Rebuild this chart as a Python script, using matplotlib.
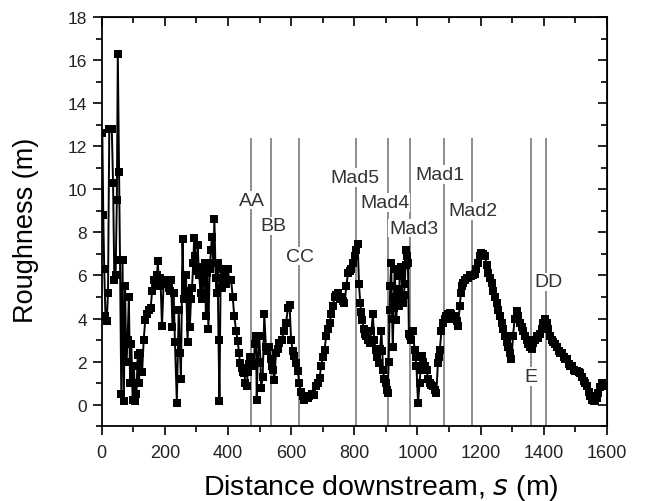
import matplotlib
matplotlib.use("Agg")
import matplotlib.pyplot as plt
from matplotlib.ticker import MultipleLocator

plt.rcParams['font.family'] = ['Liberation Sans', 'DejaVu Sans']

# distance downstream (m) and roughness (m)
dist = [2, 5, 8, 12, 16, 20, 24, 28, 32, 36, 40, 44, 48, 51, 55, 58, 62, 66, 70, 74,
        78, 82, 86, 90, 94, 98, 102, 106, 110, 114, 118, 122,
        128, 133, 138, 143, 149, 155, 160, 165, 170, 175, 178, 181, 186, 191, 196, 201,
        207, 212, 217, 220, 224, 228, 232, 238, 244, 248, 251, 256, 260, 264, 267, 272,
        276, 279, 283, 286, 290, 293, 297, 301, 304, 307, 309, 313, 316, 319, 323, 327,
        330, 334, 338, 342, 346, 349, 353, 357, 361, 364, 367, 370, 373, 377, 380, 383,
        388, 393, 399, 404, 410, 415, 420, 426, 431, 435, 438, 444, 448, 452, 455, 459,
        463, 467, 470, 473, 477, 481, 485, 489, 491, 494, 499, 503, 505, 510, 515, 520,
        525, 531, 535, 538, 542, 547, 552, 557, 563, 570, 577, 584, 590, 595, 600, 605,
        610, 616, 621, 626, 631, 637, 642, 648, 653, 658, 665, 672, 679, 685, 690, 695,
        700, 706, 711, 716, 722, 727, 732, 738, 743, 748, 754, 759, 764, 769, 775, 780,
        785, 790, 796, 801, 806, 811, 815, 819, 822, 825, 831, 835, 838, 843, 849, 854,
        859, 863, 868, 873, 878, 882, 886, 889, 891, 895, 899, 903, 906, 909, 912, 914,
        917, 920, 922, 925, 928, 931, 933, 936, 938, 941, 944, 947, 949, 952, 954, 957,
        960, 963, 965, 968, 970, 973, 977, 981, 986, 991, 994, 997, 1002, 1007, 1010, 1013,
        1018, 1023, 1029, 1034, 1039, 1044, 1050, 1055, 1060, 1065, 1068, 1071, 1076, 1081, 1087, 1092,
        1097, 1102, 1108, 1113, 1118, 1124, 1129, 1134, 1138, 1142, 1145, 1150, 1156, 1161, 1166, 1171,
        1177, 1182, 1187, 1192, 1198, 1203, 1208, 1214, 1219, 1224, 1230, 1235, 1240, 1245, 1251, 1256,
        1261, 1267, 1272, 1277, 1283, 1288, 1293, 1298, 1303, 1308, 1314, 1319, 1325, 1330, 1336, 1341,
        1346, 1351, 1357, 1362, 1367, 1372, 1378, 1383, 1388, 1394, 1399, 1404, 1409, 1415, 1420, 1425,
        1431, 1436, 1441, 1447, 1452, 1457, 1463, 1468, 1473, 1479, 1484, 1489, 1495, 1500, 1505, 1511,
        1516, 1521, 1527, 1532, 1537, 1543, 1548, 1553, 1558, 1563, 1568, 1573, 1578, 1584, 1589]
rough = [12.6, 8.8, 6.3, 4.1, 3.9, 5.2, 12.8, 12.8, 12.8, 10.3, 5.8, 6.0, 9.5, 16.3, 10.8, 6.7, 0.5, 6.7, 0.15, 5.5,
         2.0, 3.0, 5.0, 1.0, 2.8, 0.2, 1.8, 0.15, 0.5, 2.3, 1.0, 2.4,
         1.5, 3.0, 3.95, 4.2, 4.4, 4.5, 5.3, 5.8, 5.6, 6.0, 6.67, 5.5, 5.9, 3.64, 5.6, 5.7,
         5.8, 5.4, 5.3, 5.8, 3.6, 5.2, 2.9, 0.1, 4.4, 2.4, 1.2, 7.7, 4.9, 6.0, 6.0, 2.9,
         5.3, 3.6, 4.9, 5.4, 6.6, 7.75, 6.9, 6.2, 7.4, 6.4, 6.0, 5.2, 6.2, 4.9, 5.7, 6.6,
         4.1, 6.1, 3.5, 6.3, 7.2, 7.8, 6.6, 8.6, 5.9, 5.2, 6.6, 3.0, 0.15, 6.3, 5.4, 5.8,
         6.0, 5.6, 6.3, 5.8, 5.8, 5.0, 4.1, 3.4, 2.95, 2.4, 1.94, 1.7, 1.5, 1.47, 1.0, 0.85,
         1.5, 1.9, 2.2, 1.94, 2.0, 1.8, 2.8, 3.2, 0.23, 1.94, 3.2, 2.0, 0.78, 1.3, 4.2, 2.7,
         2.5, 2.7, 2.1, 1.8, 1.6, 1.16, 2.4, 2.6, 2.87, 3.0, 3.4, 3.8, 4.5, 4.65, 3.0, 2.5,
         2.25, 1.94, 1.55, 1.0, 0.6, 0.39, 0.2, 0.31, 0.3, 0.39, 0.5, 0.47, 0.85, 1.0, 1.24, 1.78,
         2.2, 2.56, 3.2, 3.5, 3.8, 4.2, 4.57, 5.0, 5.1, 5.2, 4.9, 5.0, 4.8, 4.7, 5.5, 6.1,
         6.2, 6.3, 6.6, 6.9, 7.2, 7.44, 5.6, 4.7, 4.3, 3.95, 3.5, 3.3, 3.2, 3.0, 2.87, 3.4,
         4.2, 3.0, 2.56, 2.2, 1.94, 2.6, 3.4, 2.5, 1.6, 1.2, 1.0, 0.7, 0.54, 2.0, 4.4, 5.5,
         6.6, 4.0, 2.7, 4.5, 6.3, 5.0, 3.95, 4.8, 5.35, 4.6, 5.97, 6.1, 6.4, 5.0, 4.7, 5.1,
         5.6, 6.5, 7.2, 6.9, 6.6, 3.3, 3.2, 3.0, 3.4, 2.56, 2.2, 1.78, 0.08, 1.0, 1.6, 2.25,
         2.0, 1.78, 1.6, 1.2, 1.0, 0.9, 0.85, 0.7, 0.54, 1.94, 2.2, 2.56, 3.4, 3.8, 4.0, 4.1,
         4.2, 4.26, 4.2, 4.0, 4.1, 3.9, 3.64, 4.57, 5.2, 5.5, 5.66, 5.8, 5.9, 5.9, 6.0, 5.97,
         6.0, 6.05, 6.3, 6.6, 6.9, 7.05, 7.0, 6.9, 6.5, 6.1, 5.9, 5.66, 5.3, 5.0, 4.7, 4.4,
         4.1, 3.8, 3.5, 3.2, 2.9, 2.7, 2.4, 2.1, 3.2, 4.0, 4.34, 4.1, 3.8, 3.6, 3.4, 3.2,
         3.0, 2.8, 2.7, 2.6, 2.87, 3.0, 3.2, 3.1, 3.3, 3.5, 3.8, 4.0, 3.8, 3.5, 3.2, 3.0,
         2.9, 2.8, 2.7, 2.5, 2.4, 2.4, 2.2, 2.1, 2.1, 1.9, 1.78, 1.78, 1.6, 1.55, 1.55, 1.5,
         1.47, 1.3, 1.1, 1.0, 0.85, 0.6, 0.4, 0.23, 0.15, 0.2, 0.3, 0.54, 0.8, 1.0, 0.85]

# reach markers
site_names = ['AA', 'BB', 'CC', 'Mad5', 'Mad4', 'Mad3', 'Mad1', 'Mad2', 'E', 'DD']
site_x = [472, 537, 625, 807, 906, 977, 1083, 1173, 1360, 1406]
label_x = [475, 543, 627, 801, 896, 988, 1071, 1175, 1360, 1416]
label_y = [9.5, 8.3, 6.9, 10.55, 9.4, 8.2, 10.7, 9.0, 1.3, 5.7]

fig = plt.figure(figsize=(6.49, 5.02), dpi=100)
ax = fig.add_axes([0.1567, 0.149, 0.7783, 0.815])

ax.vlines(site_x, -1, 12.4, colors='#858585', linewidth=1.3, zorder=1)
for name, lx, ly in zip(site_names, label_x, label_y):
    ax.text(lx, ly, name, ha='center', va='center', fontsize=14, color='#333333',
            bbox=dict(facecolor='white', edgecolor='none', pad=0.5), zorder=2)

ax.plot(dist, rough, color='black', linewidth=1.4, marker='s', markersize=6,
        markeredgewidth=0, zorder=3)

ax.set_xlim(0, 1600)
ax.set_ylim(-1, 18)
ax.xaxis.set_major_locator(MultipleLocator(200))
ax.xaxis.set_minor_locator(MultipleLocator(100))
ax.yaxis.set_major_locator(MultipleLocator(2))
ax.yaxis.set_minor_locator(MultipleLocator(1))
ax.tick_params(which='both', direction='out', width=1.2, colors='black')
ax.tick_params(which='major', length=6.5)
ax.tick_params(which='minor', length=4)
ax.tick_params(axis='x', labelsize=13, pad=6, labelcolor='#222222')
ax.tick_params(axis='y', labelsize=12.5, pad=4, labelcolor='#222222')
for s in ax.spines.values():
    s.set_linewidth(1.3)

top = ax.secondary_xaxis('top')
top.xaxis.set_major_locator(MultipleLocator(200))
top.xaxis.set_minor_locator(MultipleLocator(100))
top.tick_params(which='both', direction='in', labeltop=False, width=1.2)
top.tick_params(which='major', length=6.5)
top.tick_params(which='minor', length=4)
right = ax.secondary_yaxis('right')
right.yaxis.set_major_locator(MultipleLocator(2))
right.yaxis.set_minor_locator(MultipleLocator(1))
right.tick_params(which='both', direction='in', labelright=False, width=1.2)
right.tick_params(which='major', length=6.5)
right.tick_params(which='minor', length=4)

ax.set_xlabel('Distance downstream, $s$ (m)', fontsize=20.5)
ax.set_ylabel('Roughness (m)', fontsize=19.5)
ax.xaxis.label.set_va('center')
ax.yaxis.label.set_va('center')
ax.xaxis.set_label_coords(0.553, -0.149)
ax.yaxis.set_label_coords(-0.15, 0.482)

fig.savefig('out.png', dpi=100)
